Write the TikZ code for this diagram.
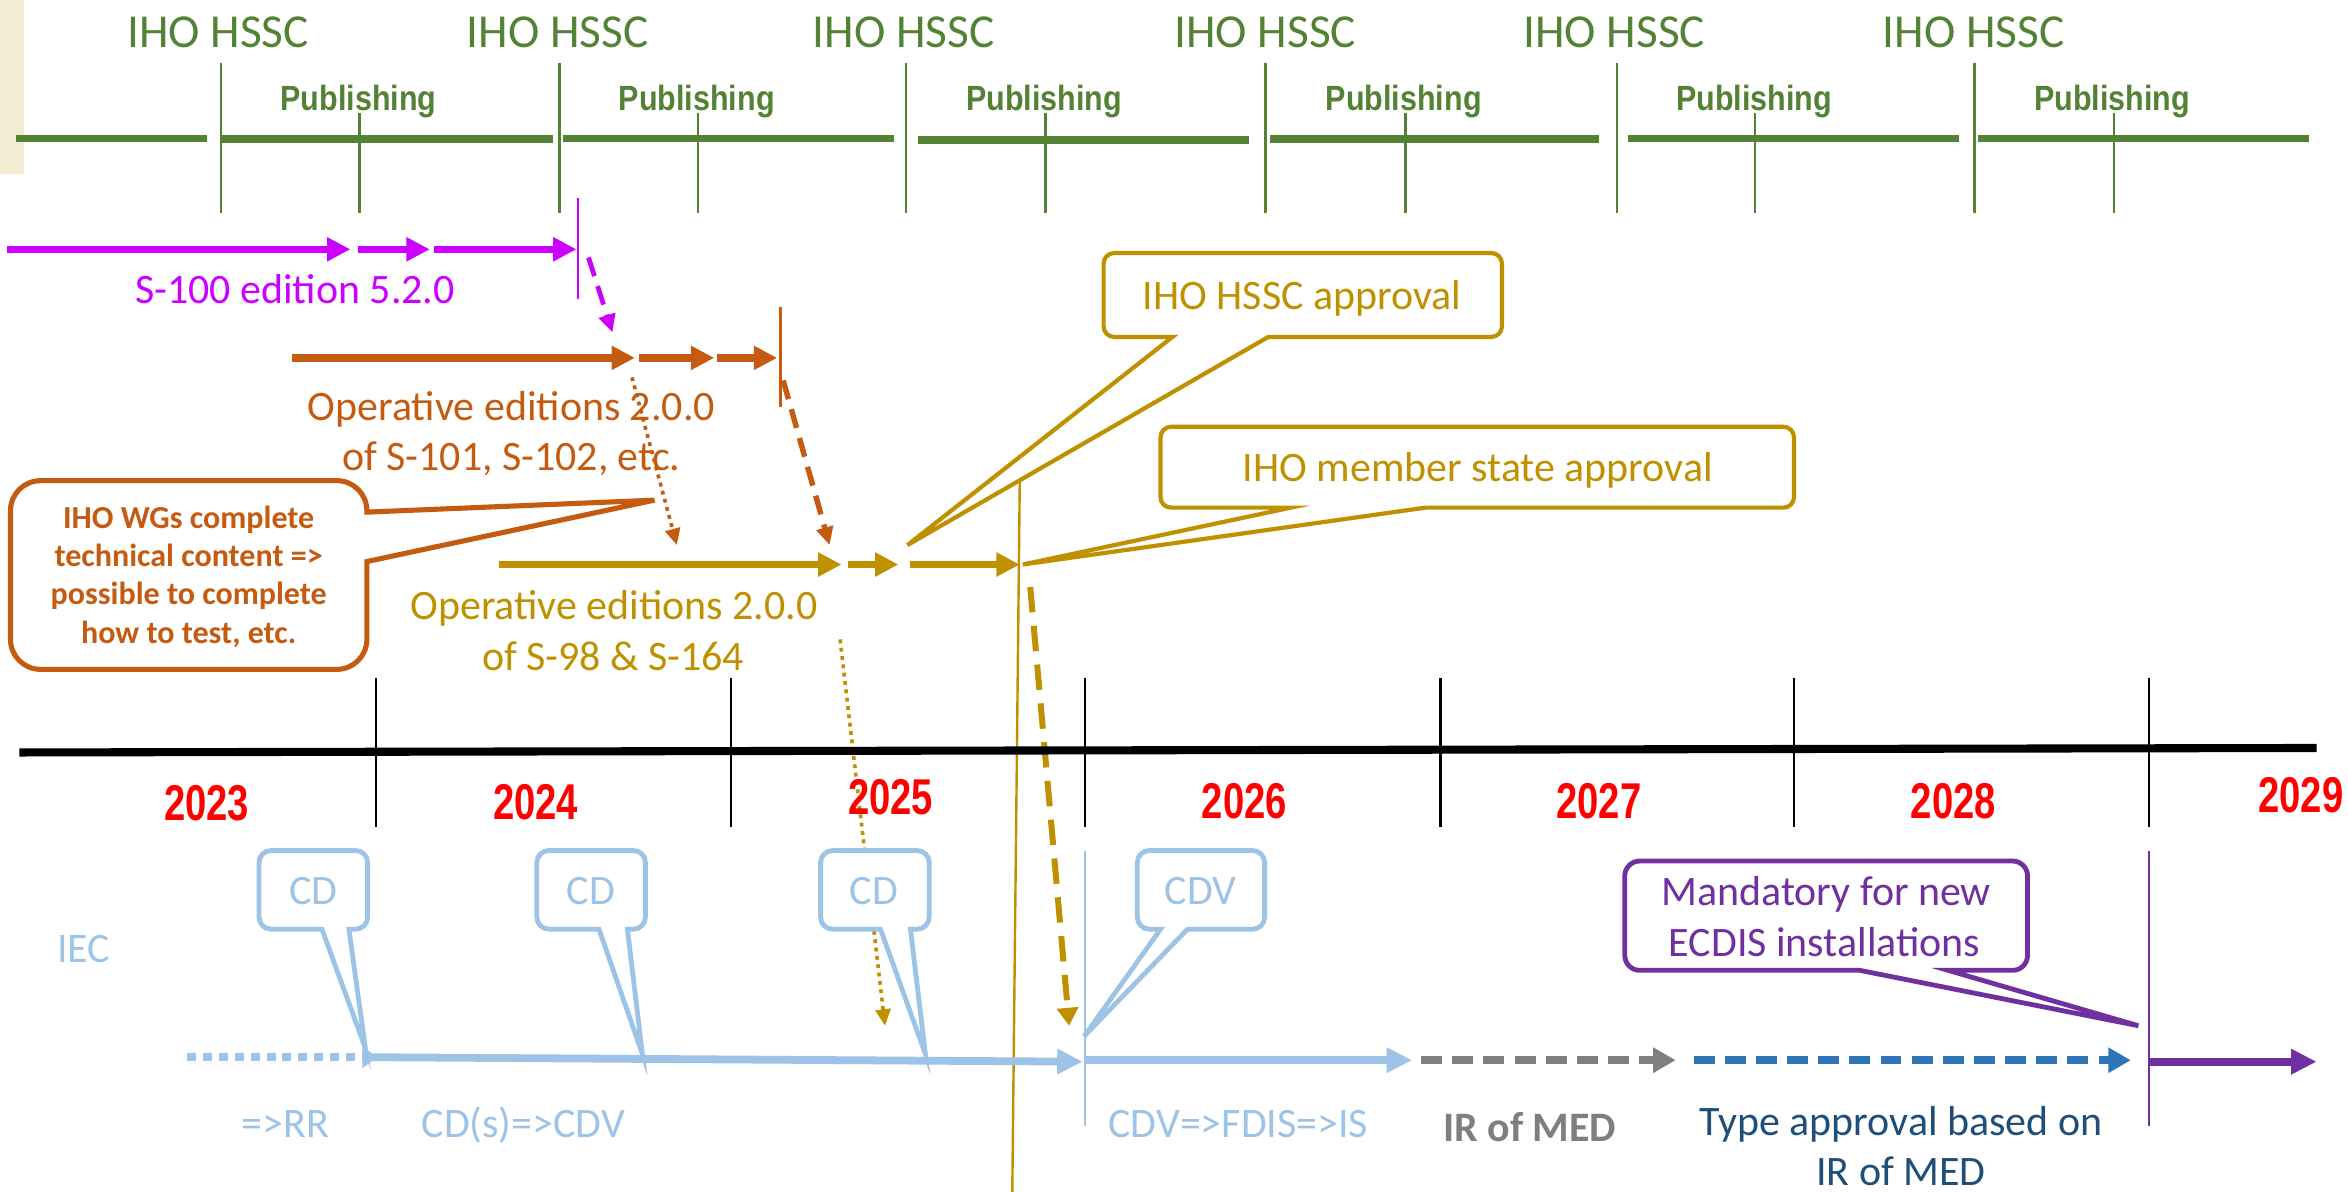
\documentclass[tikz,border=0pt]{standalone}
\usepackage{fontspec}
\setmainfont{Carlito}
\newfontfamily\pubfont[FakeStretch=0.87]{Liberation Sans}
\newfontfamily\yearfont[FakeStretch=0.76]{Liberation Sans}
\usetikzlibrary{arrows.meta}
\definecolor{hgreen}{HTML}{548235}
\definecolor{hmag}{HTML}{CC00FF}
\definecolor{horange}{HTML}{C55A11}
\definecolor{hgold}{HTML}{BF9000}
\definecolor{hlblue}{HTML}{9DC3E6}
\definecolor{hgray}{HTML}{7F7F7F}
\definecolor{hblue}{HTML}{2E75B6}
\definecolor{hdblue}{HTML}{1F4E79}
\definecolor{hpurple}{HTML}{7030A0}
\definecolor{hbeige}{HTML}{F2ECD3}
\def\crad{10}
% callout with pointer on the bottom edge
\newcommand\boxcallout[8]{%
\draw[#1] (#6,#5) -- #8 -- (#7,#5)
  -- ({#4-\crad},#5) .. controls ({#4-0.448*\crad},#5) and (#4,{#5-0.448*\crad}) .. (#4,{#5-\crad})
  -- (#4,{#3+\crad}) .. controls (#4,{#3+0.448*\crad}) and ({#4-0.448*\crad},#3) .. ({#4-\crad},#3)
  -- ({#2+\crad},#3) .. controls ({#2+0.448*\crad},#3) and (#2,{#3+0.448*\crad}) .. (#2,{#3+\crad})
  -- (#2,{#5-\crad}) .. controls (#2,{#5-0.448*\crad}) and ({#2+0.448*\crad},#5) .. ({#2+\crad},#5)
  -- cycle;}
% callout with pointer on the right edge
\newcommand\rcallout[8]{%
\draw[#1] (#4,#6) -- #8 -- (#4,#7)
  -- (#4,{#5-\crad}) .. controls (#4,{#5-0.448*\crad}) and ({#4-0.448*\crad},#5) .. ({#4-\crad},#5)
  -- ({#2+\crad},#5) .. controls ({#2+0.448*\crad},#5) and (#2,{#5-0.448*\crad}) .. (#2,{#5-\crad})
  -- (#2,{#3+\crad}) .. controls (#2,{#3+0.448*\crad}) and ({#2+0.448*\crad},#3) .. ({#2+\crad},#3)
  -- ({#4-\crad},#3) .. controls ({#4-0.448*\crad},#3) and (#4,{#3+0.448*\crad}) .. (#4,{#3+\crad})
  -- cycle;}
\tikzset{
  txt/.style={inner sep=0pt, anchor=base, font=\fontsize{14}{16}\selectfont},
  hssc/.style={txt, text=hgreen, font=\fontsize{15.8}{18}\selectfont},
  pub/.style={inner sep=0pt, anchor=base, text=hgreen, font=\pubfont\bfseries\fontsize{11.7}{14}\selectfont},
  yr/.style={inner sep=0pt, anchor=base, text=red, font=\yearfont\bfseries\fontsize{16.8}{20}\selectfont},
  wg/.style={inner sep=0pt, anchor=base, text=horange, font=\bfseries\fontsize{10.7}{12}\selectfont},
  gseg/.style={draw=hgreen, line width=2.55pt},
  gtick/.style={draw=hgreen, line width=0.85pt},
  thinv/.style={line width=0.9pt},
  bigarrow/.style={line width=2.45pt, -{Triangle[length=7.8pt,width=7.6pt]}},
  blarrow/.style={line width=2.6pt, -{Triangle[length=8.5pt,width=8pt]}},
  dasharrow/.style={line width=2.5pt, dash pattern=on 7pt off 3.4pt, -{Triangle[length=7.5pt,width=8pt]}},
  smalldash/.style={line width=1.6pt, dash pattern=on 6.5pt off 3.5pt, -{Triangle[length=6pt,width=5.5pt]}},
  golddash/.style={line width=2pt, dash pattern=on 8.5pt off 4.5pt, -{Triangle[length=6pt,width=7pt]}},
  dotarrow/.style={line width=1.2pt, dash pattern=on 1.3pt off 1.5pt, -{Triangle[length=5.5pt,width=5pt]}},
  callgold/.style={draw=hgold, line width=1.4pt, fill=white},
  callblue/.style={draw=hlblue, line width=1.6pt, fill=white},
}
\begin{document}
\begin{tikzpicture}[x=0.5pt,y=-0.5pt]
\useasboundingbox (0,0) rectangle (1568,796);
\fill[white] (0,0) rectangle (1568,796);
\fill[hbeige] (0,0) rectangle (16,116);

% ---- IHO HSSC / Publishing band ----
\foreach \a/\b/\y in {11/138/92.4, 148/369/93, 376/597/92.6, 613/834/93.7, 848/1068/92.8, 1087/1308/92.4, 1321/1542/92.4}
  \draw[gseg] (\a,\y) -- (\b,\y);
\foreach \x in {147.5,373.8,605,845,1079.7,1318.6} \draw[gtick] (\x,42) -- (\x,142);
\foreach \x in {240.2,466,698,938.7,1172,1411.7} \draw[gtick] (\x,75.5) -- (\x,142);
\foreach \x [count=\i] in {145.7,372.3,603.5,845,1078,1318}
  \node[hssc] (hssc\i) at (\x,31.4) {IHO HSSC};
\foreach \x [count=\i] in {239.4,465.3,697.3,937.4,1171.5,1410.5}
  \node[pub] (pub\i) at (\x,73.5) {Publishing};

% ---- S-100 (magenta) ----
\coordinate (m0) at (5,166.5);   \coordinate (m1) at (234,166.5);
\coordinate (m2) at (239,166.5); \coordinate (m3) at (287,166.5);
\coordinate (m4) at (290,166.5); \coordinate (m5) at (385,166.5);
\draw[bigarrow, hmag] (m0) -- (m1);
\draw[bigarrow, hmag] (m2) -- (m3);
\draw[bigarrow, hmag] (m4) -- (m5);
\draw[thinv, hmag] (386,132.5) -- (386,200);
\coordinate (md0) at (393,172); \coordinate (md1) at (409,222);
\draw[smalldash, hmag] (md0) -- (md1);

% ---- S-101 etc. (orange) ----
\coordinate (o0) at (195,239); \coordinate (o1) at (424,239);
\coordinate (o2) at (427,239); \coordinate (o3) at (477,239);
\coordinate (o4) at (479,239); \coordinate (o5) at (519,239);
\draw[bigarrow, horange] (o0) -- (o1);
\draw[bigarrow, horange] (o2) -- (o3);
\draw[bigarrow, horange] (o4) -- (o5);
\draw[thinv, horange] (521,205) -- (521,272);
\coordinate (od0) at (523,254); \coordinate (od1) at (554,364);
\draw[smalldash, horange, line width=1.8pt] (od0) -- (od1);
\coordinate (ot0) at (422,252); \coordinate (ot1) at (452,364);
\draw[dotarrow, horange] (ot0) -- (ot1);

% ---- S-98 & S-164 (gold) ----
\coordinate (g0) at (333,377); \coordinate (g1) at (562,377);
\coordinate (g2) at (566,377); \coordinate (g3) at (600,377);
\coordinate (g4) at (608,377); \coordinate (g5) at (681,377);
\draw[bigarrow, hgold] (g0) -- (g1);
\draw[bigarrow, hgold] (g2) -- (g3);
\draw[bigarrow, hgold] (g4) -- (g5);
\draw[line width=0.8pt, hgold] (681,321) -- (676,796);
\coordinate (gd0) at (688,392); \coordinate (gd1) at (714,685);
\draw[golddash, hgold] (gd0) -- (gd1);
\coordinate (gt0) at (561,427); \coordinate (gt1) at (591,685);
\draw[dotarrow, hgold] (gt0) -- (gt1);

% ---- callouts ----
\def\crad{20}
\rcallout{draw=horange, line width=1.7pt, fill=white}{7}{321}{245}{447}{342}{375}{(437,334)}
\def\crad{7}
\boxcallout{callgold}{737}{169}{1003}{225}{783}{847}{(606,364)}
\boxcallout{callgold}{775}{285}{1198}{339}{862}{952}{(683,377)}
\def\crad{8}
\boxcallout{callblue}{173}{568}{245.5}{620.5}{215}{233}{(244,700)}
\boxcallout{callblue}{358.5}{568}{431}{620.5}{400}{419}{(429,704)}
\boxcallout{callblue}{548}{568}{620.5}{620.5}{588}{608}{(618,704)}
\boxcallout{callblue}{759.5}{568}{844.5}{620.5}{775}{793}{(724,692)}
\def\crad{10}
\boxcallout{draw=hpurple, line width=1.6pt, fill=white}{1085}{575}{1354}{648}{1242}{1301}{(1428,685)}

% ---- year axis ----
\coordinate (ax0) at (13,502.5); \coordinate (ax1) at (1547,499.5);
\draw[line width=2.7pt, black] (ax0) -- (ax1);
\foreach \x in {251,488,724.6,962,1198,1435} \draw[line width=0.8pt] (\x,453) -- (\x,552);
\node[yr] (y23) at (138,547.6) {2023};
\node[yr] (y24) at (357.7,547.2) {2024};
\node[yr] (y25) at (594.8,543.7) {2025};
\node[yr] (y26) at (831,546.7) {2026};
\node[yr] (y27) at (1067.7,546.7) {2027};
\node[yr] (y28) at (1304.4,546.7) {2028};
\node[yr] (y29) at (1536.6,542.6) {2029};

% ---- IEC line ----
\draw[thinv, hlblue] (724.5,568) -- (724.5,752);
\draw[thinv, hpurple] (1435,568) -- (1435,752);
\coordinate (b0) at (125,706); \coordinate (b1) at (252,706);
\draw[hlblue, line width=2.5pt, dash pattern=on 3pt off 2.3pt, -{Triangle[length=5pt,width=7pt]}] (b0) -- (b1);
\coordinate (b2) at (248,706); \coordinate (b3) at (723,709);
\draw[blarrow, hlblue] (b2) -- (b3);
\coordinate (b4) at (725,708); \coordinate (b5) at (943,708);
\draw[blarrow, hlblue] (b4) -- (b5);
\coordinate (c0) at (949,708); \coordinate (c1) at (1119,708);
\draw[dasharrow, hgray] (c0) -- (c1);
\coordinate (c2) at (1131,708); \coordinate (c3) at (1423,708);
\draw[dasharrow, hblue] (c2) -- (c3);
\coordinate (p0) at (1435,709); \coordinate (p1) at (1547,709);
\draw[blarrow, hpurple] (p0) -- (p1);

% ---- texts ----
\node[txt, text=hmag] (s100) at (197,203) {S-100 edition 5.2.0};
\node[txt, text=horange] (op1a) at (341.5,281) {Operative editions 2.0.0};
\node[txt, text=horange] (op1b) at (341.5,314.3) {of S-101, S-102, etc.};
\node[txt, text=hgold] (op2a) at (410,414) {Operative editions 2.0.0};
\node[txt, text=hgold] (op2b) at (409.5,447.5) {of S-98 \& S-164};
\node[wg] (wg1) at (126,352.8) {IHO WGs complete};
\node[wg] (wg2) at (126,378.4) {technical content =>};
\node[wg] (wg3) at (126,404) {possible to complete};
\node[wg] (wg4) at (126,429.6) {how to test, etc.};
\node[txt, text=hgold] (hsscapp) at (869.5,207) {IHO HSSC approval};
\node[txt, text=hgold] (msapp) at (986.8,321.7) {IHO member state approval};
\node[txt, text=hlblue] (iec) at (56,643) {IEC};
\node[txt, text=hlblue] (cd1) at (209.4,604.3) {CD};
\node[txt, text=hlblue] (cd2) at (394.7,604.3) {CD};
\node[txt, text=hlblue] (cd3) at (583.7,604.3) {CD};
\node[txt, text=hlblue] (cdv) at (801.7,603.8) {CDV};
\node[txt, text=hpurple] (mand1) at (1219.5,605) {Mandatory for new};
\node[txt, text=hpurple] (mand2) at (1218.5,638.5) {ECDIS installations};
\node[txt, text=hlblue] (rr) at (190.5,759.6) {=>RR};
\node[txt, text=hlblue] (cds) at (349.5,759.6) {CD(s)=>CDV};
\node[txt, text=hlblue] (fdis) at (827,759.6) {CDV=>FDIS=>IS};
\node[txt, text=hgray, font=\bfseries\fontsize{14}{16}\selectfont] (irmed) at (1021.6,762.3) {IR of MED};
\node[txt, text=hdblue] (ta1) at (1269.5,758.5) {Type approval based on};
\node[txt, text=hdblue] (ta2) at (1269.5,791.9) {IR of MED};
\end{tikzpicture}
\end{document}
